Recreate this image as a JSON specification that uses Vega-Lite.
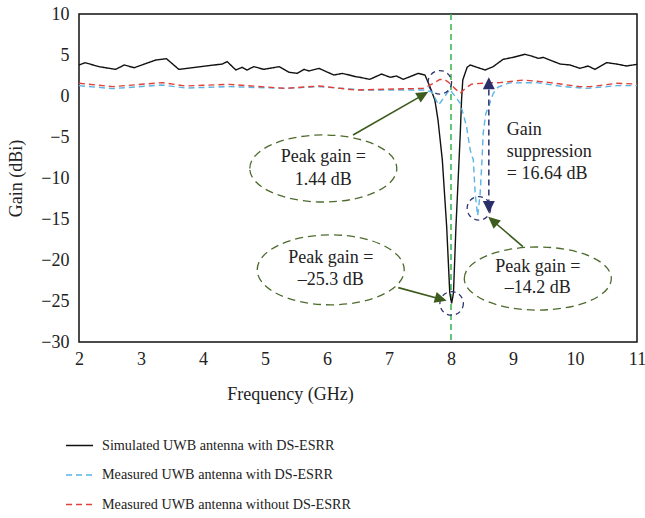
{
  "$schema": "https://vega.github.io/schema/vega-lite/v6.json",
  "width": 558,
  "height": 328,
  "autosize": {"type": "none"},
  "padding": {"left": 79, "top": 14, "right": 8, "bottom": 176},
  "background": "white",
  "config": {
    "font": "Liberation Serif",
    "view": {"stroke": "#111111", "strokeWidth": 1.5},
    "axis": {
      "domain": false,
      "ticks": false,
      "grid": false,
      "labelFlush": false,
      "labelFont": "Liberation Serif",
      "labelFontSize": 18,
      "labelColor": "#222222",
      "titleFont": "Liberation Serif",
      "titleFontSize": 18,
      "titleFontWeight": "normal",
      "titleColor": "#222222"
    },
    "legend": {
      "orient": "none",
      "legendX": -14,
      "legendY": 417,
      "labelFont": "Liberation Serif",
      "labelFontSize": 14.2,
      "labelColor": "#222222",
      "labelLimit": 400,
      "labelOffset": 8,
      "symbolType": "stroke",
      "symbolSize": 729,
      "symbolStrokeWidth": 1.5,
      "rowPadding": 7.5,
      "direction": "vertical"
    }
  },
  "datasets": {
    "curves": [
      {"s": "Simulated UWB antenna with DS-ESRR", "f": 2.0, "g": 3.78},
      {"s": "Simulated UWB antenna with DS-ESRR", "f": 2.1, "g": 4.06},
      {"s": "Simulated UWB antenna with DS-ESRR", "f": 2.32, "g": 3.58},
      {"s": "Simulated UWB antenna with DS-ESRR", "f": 2.59, "g": 3.25},
      {"s": "Simulated UWB antenna with DS-ESRR", "f": 2.73, "g": 3.78},
      {"s": "Simulated UWB antenna with DS-ESRR", "f": 2.89, "g": 3.45},
      {"s": "Simulated UWB antenna with DS-ESRR", "f": 3.24, "g": 4.39},
      {"s": "Simulated UWB antenna with DS-ESRR", "f": 3.41, "g": 4.55},
      {"s": "Simulated UWB antenna with DS-ESRR", "f": 3.61, "g": 3.25},
      {"s": "Simulated UWB antenna with DS-ESRR", "f": 4.31, "g": 3.9},
      {"s": "Simulated UWB antenna with DS-ESRR", "f": 4.39, "g": 4.19},
      {"s": "Simulated UWB antenna with DS-ESRR", "f": 4.53, "g": 3.17},
      {"s": "Simulated UWB antenna with DS-ESRR", "f": 4.63, "g": 3.5},
      {"s": "Simulated UWB antenna with DS-ESRR", "f": 4.71, "g": 3.17},
      {"s": "Simulated UWB antenna with DS-ESRR", "f": 4.82, "g": 3.58},
      {"s": "Simulated UWB antenna with DS-ESRR", "f": 4.98, "g": 3.25},
      {"s": "Simulated UWB antenna with DS-ESRR", "f": 5.23, "g": 3.58},
      {"s": "Simulated UWB antenna with DS-ESRR", "f": 5.39, "g": 2.89},
      {"s": "Simulated UWB antenna with DS-ESRR", "f": 5.52, "g": 2.76},
      {"s": "Simulated UWB antenna with DS-ESRR", "f": 5.63, "g": 3.25},
      {"s": "Simulated UWB antenna with DS-ESRR", "f": 5.71, "g": 3.05},
      {"s": "Simulated UWB antenna with DS-ESRR", "f": 5.87, "g": 3.37},
      {"s": "Simulated UWB antenna with DS-ESRR", "f": 5.98, "g": 3.0},
      {"s": "Simulated UWB antenna with DS-ESRR", "f": 6.11, "g": 2.56},
      {"s": "Simulated UWB antenna with DS-ESRR", "f": 6.25, "g": 2.76},
      {"s": "Simulated UWB antenna with DS-ESRR", "f": 6.46, "g": 2.36},
      {"s": "Simulated UWB antenna with DS-ESRR", "f": 6.53, "g": 2.28},
      {"s": "Simulated UWB antenna with DS-ESRR", "f": 6.69, "g": 2.03},
      {"s": "Simulated UWB antenna with DS-ESRR", "f": 6.88, "g": 2.68},
      {"s": "Simulated UWB antenna with DS-ESRR", "f": 7.02, "g": 2.28},
      {"s": "Simulated UWB antenna with DS-ESRR", "f": 7.12, "g": 2.44},
      {"s": "Simulated UWB antenna with DS-ESRR", "f": 7.23, "g": 2.03},
      {"s": "Simulated UWB antenna with DS-ESRR", "f": 7.34, "g": 2.36},
      {"s": "Simulated UWB antenna with DS-ESRR", "f": 7.47, "g": 2.76},
      {"s": "Simulated UWB antenna with DS-ESRR", "f": 7.58, "g": 2.56},
      {"s": "Simulated UWB antenna with DS-ESRR", "f": 7.66, "g": 1.14},
      {"s": "Simulated UWB antenna with DS-ESRR", "f": 7.74, "g": -0.5},
      {"s": "Simulated UWB antenna with DS-ESRR", "f": 7.79, "g": -2.9},
      {"s": "Simulated UWB antenna with DS-ESRR", "f": 7.83, "g": -5.7},
      {"s": "Simulated UWB antenna with DS-ESRR", "f": 7.86, "g": -7.8},
      {"s": "Simulated UWB antenna with DS-ESRR", "f": 7.93, "g": -15.9},
      {"s": "Simulated UWB antenna with DS-ESRR", "f": 7.98, "g": -24.0},
      {"s": "Simulated UWB antenna with DS-ESRR", "f": 8.01, "g": -25.3},
      {"s": "Simulated UWB antenna with DS-ESRR", "f": 8.04, "g": -24.0},
      {"s": "Simulated UWB antenna with DS-ESRR", "f": 8.08, "g": -15.9},
      {"s": "Simulated UWB antenna with DS-ESRR", "f": 8.13, "g": -7.8},
      {"s": "Simulated UWB antenna with DS-ESRR", "f": 8.15, "g": -4.5},
      {"s": "Simulated UWB antenna with DS-ESRR", "f": 8.17, "g": -0.5},
      {"s": "Simulated UWB antenna with DS-ESRR", "f": 8.19, "g": 1.95},
      {"s": "Simulated UWB antenna with DS-ESRR", "f": 8.26, "g": 3.5},
      {"s": "Simulated UWB antenna with DS-ESRR", "f": 8.31, "g": 3.78},
      {"s": "Simulated UWB antenna with DS-ESRR", "f": 8.55, "g": 3.17},
      {"s": "Simulated UWB antenna with DS-ESRR", "f": 8.68, "g": 3.58},
      {"s": "Simulated UWB antenna with DS-ESRR", "f": 8.84, "g": 4.47},
      {"s": "Simulated UWB antenna with DS-ESRR", "f": 9.0, "g": 4.71},
      {"s": "Simulated UWB antenna with DS-ESRR", "f": 9.19, "g": 5.08},
      {"s": "Simulated UWB antenna with DS-ESRR", "f": 9.3, "g": 4.87},
      {"s": "Simulated UWB antenna with DS-ESRR", "f": 9.41, "g": 4.59},
      {"s": "Simulated UWB antenna with DS-ESRR", "f": 9.49, "g": 4.71},
      {"s": "Simulated UWB antenna with DS-ESRR", "f": 9.62, "g": 4.31},
      {"s": "Simulated UWB antenna with DS-ESRR", "f": 9.76, "g": 3.9},
      {"s": "Simulated UWB antenna with DS-ESRR", "f": 9.92, "g": 3.78},
      {"s": "Simulated UWB antenna with DS-ESRR", "f": 10.08, "g": 3.37},
      {"s": "Simulated UWB antenna with DS-ESRR", "f": 10.21, "g": 3.66},
      {"s": "Simulated UWB antenna with DS-ESRR", "f": 10.32, "g": 3.25},
      {"s": "Simulated UWB antenna with DS-ESRR", "f": 10.51, "g": 4.07},
      {"s": "Simulated UWB antenna with DS-ESRR", "f": 10.67, "g": 3.9},
      {"s": "Simulated UWB antenna with DS-ESRR", "f": 10.83, "g": 3.66},
      {"s": "Simulated UWB antenna with DS-ESRR", "f": 11.0, "g": 3.86},

      {"s": "Measured UWB antenna with DS-ESRR", "f": 2.0, "g": 1.26},
      {"s": "Measured UWB antenna with DS-ESRR", "f": 2.54, "g": 0.9},
      {"s": "Measured UWB antenna with DS-ESRR", "f": 3.34, "g": 1.34},
      {"s": "Measured UWB antenna with DS-ESRR", "f": 3.72, "g": 0.97},
      {"s": "Measured UWB antenna with DS-ESRR", "f": 4.42, "g": 1.14},
      {"s": "Measured UWB antenna with DS-ESRR", "f": 5.33, "g": 0.93},
      {"s": "Measured UWB antenna with DS-ESRR", "f": 5.87, "g": 1.14},
      {"s": "Measured UWB antenna with DS-ESRR", "f": 6.46, "g": 0.81},
      {"s": "Measured UWB antenna with DS-ESRR", "f": 6.53, "g": 0.73},
      {"s": "Measured UWB antenna with DS-ESRR", "f": 7.55, "g": 0.73},
      {"s": "Measured UWB antenna with DS-ESRR", "f": 7.69, "g": 0.52},
      {"s": "Measured UWB antenna with DS-ESRR", "f": 7.8, "g": -1.1},
      {"s": "Measured UWB antenna with DS-ESRR", "f": 7.98, "g": 0.81},
      {"s": "Measured UWB antenna with DS-ESRR", "f": 8.15, "g": -0.9},
      {"s": "Measured UWB antenna with DS-ESRR", "f": 8.25, "g": -3.7},
      {"s": "Measured UWB antenna with DS-ESRR", "f": 8.31, "g": -6.6},
      {"s": "Measured UWB antenna with DS-ESRR", "f": 8.36, "g": -7.8},
      {"s": "Measured UWB antenna with DS-ESRR", "f": 8.39, "g": -11.9},
      {"s": "Measured UWB antenna with DS-ESRR", "f": 8.43, "g": -14.6},
      {"s": "Measured UWB antenna with DS-ESRR", "f": 8.47, "g": -11.9},
      {"s": "Measured UWB antenna with DS-ESRR", "f": 8.5, "g": -7.8},
      {"s": "Measured UWB antenna with DS-ESRR", "f": 8.52, "g": -4.5},
      {"s": "Measured UWB antenna with DS-ESRR", "f": 8.56, "g": -2.2},
      {"s": "Measured UWB antenna with DS-ESRR", "f": 8.62, "g": -1.0},
      {"s": "Measured UWB antenna with DS-ESRR", "f": 8.68, "g": 0.3},
      {"s": "Measured UWB antenna with DS-ESRR", "f": 8.76, "g": 1.1},
      {"s": "Measured UWB antenna with DS-ESRR", "f": 8.95, "g": 1.6},
      {"s": "Measured UWB antenna with DS-ESRR", "f": 9.38, "g": 1.63},
      {"s": "Measured UWB antenna with DS-ESRR", "f": 9.81, "g": 1.14},
      {"s": "Measured UWB antenna with DS-ESRR", "f": 10.19, "g": 0.93},
      {"s": "Measured UWB antenna with DS-ESRR", "f": 10.67, "g": 1.26},
      {"s": "Measured UWB antenna with DS-ESRR", "f": 11.0, "g": 1.26},

      {"s": "Measured UWB antenna without DS-ESRR", "f": 2.0, "g": 1.55},
      {"s": "Measured UWB antenna without DS-ESRR", "f": 2.54, "g": 1.14},
      {"s": "Measured UWB antenna without DS-ESRR", "f": 3.34, "g": 1.63},
      {"s": "Measured UWB antenna without DS-ESRR", "f": 3.72, "g": 1.22},
      {"s": "Measured UWB antenna without DS-ESRR", "f": 4.42, "g": 1.42},
      {"s": "Measured UWB antenna without DS-ESRR", "f": 5.33, "g": 0.93},
      {"s": "Measured UWB antenna without DS-ESRR", "f": 5.87, "g": 1.22},
      {"s": "Measured UWB antenna without DS-ESRR", "f": 6.46, "g": 0.73},
      {"s": "Measured UWB antenna without DS-ESRR", "f": 7.07, "g": 0.85},
      {"s": "Measured UWB antenna without DS-ESRR", "f": 7.55, "g": 0.93},
      {"s": "Measured UWB antenna without DS-ESRR", "f": 7.72, "g": 1.55},
      {"s": "Measured UWB antenna without DS-ESRR", "f": 7.82, "g": 2.03},
      {"s": "Measured UWB antenna without DS-ESRR", "f": 7.9, "g": 2.0},
      {"s": "Measured UWB antenna without DS-ESRR", "f": 7.98, "g": 1.55},
      {"s": "Measured UWB antenna without DS-ESRR", "f": 8.06, "g": 0.93},
      {"s": "Measured UWB antenna without DS-ESRR", "f": 8.15, "g": 0.33},
      {"s": "Measured UWB antenna without DS-ESRR", "f": 8.23, "g": 0.93},
      {"s": "Measured UWB antenna without DS-ESRR", "f": 8.33, "g": 1.45},
      {"s": "Measured UWB antenna without DS-ESRR", "f": 8.58, "g": 1.6},
      {"s": "Measured UWB antenna without DS-ESRR", "f": 8.79, "g": 1.63},
      {"s": "Measured UWB antenna without DS-ESRR", "f": 9.17, "g": 1.95},
      {"s": "Measured UWB antenna without DS-ESRR", "f": 9.6, "g": 1.63},
      {"s": "Measured UWB antenna without DS-ESRR", "f": 10.08, "g": 1.14},
      {"s": "Measured UWB antenna without DS-ESRR", "f": 10.24, "g": 1.14},
      {"s": "Measured UWB antenna without DS-ESRR", "f": 10.67, "g": 1.55},
      {"s": "Measured UWB antenna without DS-ESRR", "f": 11.0, "g": 1.46}
    ],
    "marker": [{"f": 8, "g": 10, "g2": -30}],
    "ellipses": [
      {"e": "a", "f": 5.94, "g": -8.84},
      {"e": "b", "f": 6.06, "g": -21.2},
      {"e": "c", "f": 9.4, "g": -22.26}
    ],
    "circles": [
      {"f": 7.82, "g": 1.67},
      {"f": 8.01, "g": -25.3},
      {"f": 8.45, "g": -13.7}
    ],
    "arrows": [
      {"f": 6.42, "g": -4.76, "f2": 7.6, "g2": 0.35},
      {"f": 7.15, "g": -23.37, "f2": 7.9, "g2": -24.9},
      {"f": 9.16, "g": -18.37, "f2": 8.64, "g2": -15.0}
    ],
    "heads": [
      {"f": 7.634, "g": 0.52, "a": 60},
      {"f": 7.93, "g": -24.96, "a": 106},
      {"f": 8.6, "g": -14.72, "a": -49}
    ],
    "span": [{"f": 8.61, "g": 2.0, "f2": 8.61, "g2": -14.0}],
    "spanheads": [
      {"f": 8.61, "g": 2.28, "a": 0},
      {"f": 8.61, "g": -14.27, "a": 180}
    ],
    "centerText": [
      {"f": 5.94, "g": -7.44, "t": "Peak gain ="},
      {"f": 5.94, "g": -10.24, "t": "1.44 dB"},
      {"f": 6.06, "g": -19.76, "t": "Peak gain ="},
      {"f": 6.06, "g": -22.44, "t": "–25.3 dB"},
      {"f": 9.4, "g": -20.85, "t": "Peak gain ="},
      {"f": 9.4, "g": -23.41, "t": "–14.2 dB"}
    ],
    "leftText": [
      {"f": 8.9, "g": -4.15, "t": "Gain"},
      {"f": 8.9, "g": -6.83, "t": "suppression"},
      {"f": 8.9, "g": -9.51, "t": "= 16.64 dB"}
    ]
  },
  "encoding": {
    "x": {
      "field": "f",
      "type": "quantitative",
      "scale": {"domain": [2, 11], "nice": false, "zero": false},
      "axis": {
        "title": "Frequency (GHz)",
        "values": [2, 3, 4, 5, 6, 7, 8, 9, 10, 11],
        "labelPadding": 8,
        "titleX": 211,
        "titleY": 52,
        "titleBaseline": "middle",
        "titleAnchor": null
      }
    },
    "y": {
      "field": "g",
      "type": "quantitative",
      "scale": {"domain": [-30, 10], "nice": false, "zero": false},
      "axis": {
        "title": "Gain (dBi)",
        "values": [-30, -25, -20, -15, -10, -5, 0, 5, 10],
        "labelPadding": 10,
        "titleX": -63,
        "titleY": 164,
        "titleBaseline": "middle",
        "titleAngle": -90
      }
    }
  },
  "layer": [
    {
      "data": {"name": "marker"},
      "mark": {"type": "rule", "color": "#33b54a", "strokeWidth": 1.5, "strokeDash": [6, 4]},
      "encoding": {"y2": {"field": "g2"}}
    },
    {
      "data": {"name": "curves"},
      "mark": {"type": "line", "strokeWidth": 1.4},
      "encoding": {
        "color": {
          "field": "s",
          "type": "nominal",
          "scale": {
            "domain": ["Simulated UWB antenna with DS-ESRR", "Measured UWB antenna with DS-ESRR", "Measured UWB antenna without DS-ESRR"],
            "range": ["#111111", "#5ab4e5", "#e0413a"]
          },
          "legend": {"title": null}
        },
        "strokeDash": {
          "field": "s",
          "type": "nominal",
          "scale": {
            "domain": ["Simulated UWB antenna with DS-ESRR", "Measured UWB antenna with DS-ESRR", "Measured UWB antenna without DS-ESRR"],
            "range": [[1, 0], [6, 4], [6, 4]]
          },
          "legend": {"title": null}
        }
      }
    },
    {
      "data": {"name": "ellipses"},
      "mark": {"type": "point", "filled": false, "stroke": "#4d6b2d", "strokeWidth": 1.3, "strokeDash": [8, 5], "size": 21609, "opacity": 1},
      "encoding": {
        "shape": {
          "field": "e",
          "type": "nominal",
          "scale": {
            "domain": ["a", "b", "c"],
            "range": [
              "M-1,0C-1,-0.2518,-0.5523,-0.456,0,-0.456C0.5523,-0.456,1,-0.2518,1,0C1,0.2518,0.5523,0.456,0,0.456C-0.5523,0.456,-1,0.2518,-1,0Z",
              "M-1,0C-1,-0.2629,-0.5523,-0.476,0,-0.476C0.5523,-0.476,1,-0.2629,1,0C1,0.2629,0.5523,0.476,0,0.476C-0.5523,0.476,-1,0.2629,-1,0Z",
              "M-1,0C-1,-0.2369,-0.5523,-0.429,0,-0.429C0.5523,-0.429,1,-0.2369,1,0C1,0.2369,0.5523,0.429,0,0.429C-0.5523,0.429,-1,0.2369,-1,0Z"
            ]
          },
          "legend": null
        }
      }
    },
    {
      "data": {"name": "circles"},
      "mark": {"type": "point", "shape": "circle", "filled": false, "stroke": "#2f3570", "strokeWidth": 1.3, "strokeDash": [5, 4], "size": 552, "opacity": 1}
    },
    {
      "data": {"name": "arrows"},
      "mark": {"type": "rule", "color": "#3d5c1e", "strokeWidth": 1.6},
      "encoding": {"x2": {"field": "f2"}, "y2": {"field": "g2"}}
    },
    {
      "data": {"name": "heads"},
      "mark": {"type": "point", "shape": "M0,0L0.46,1L-0.46,1Z", "filled": true, "color": "#3d5c1e", "size": 576, "opacity": 1},
      "encoding": {"angle": {"field": "a", "type": "quantitative", "scale": null}}
    },
    {
      "data": {"name": "span"},
      "mark": {"type": "rule", "color": "#3a3f78", "strokeWidth": 1.6, "strokeDash": [6, 4]},
      "encoding": {"x2": {"field": "f2"}, "y2": {"field": "g2"}}
    },
    {
      "data": {"name": "spanheads"},
      "mark": {"type": "point", "shape": "M0,0L0.5,1L-0.5,1Z", "filled": true, "color": "#2a2f6b", "size": 576, "opacity": 1},
      "encoding": {"angle": {"field": "a", "type": "quantitative", "scale": null}}
    },
    {
      "data": {"name": "centerText"},
      "mark": {"type": "text", "font": "Liberation Serif", "fontSize": 18, "color": "#222222", "align": "center", "baseline": "middle"},
      "encoding": {"text": {"field": "t"}}
    },
    {
      "data": {"name": "leftText"},
      "mark": {"type": "text", "font": "Liberation Serif", "fontSize": 18, "color": "#222222", "align": "left", "baseline": "middle"},
      "encoding": {"text": {"field": "t"}}
    }
  ]
}
